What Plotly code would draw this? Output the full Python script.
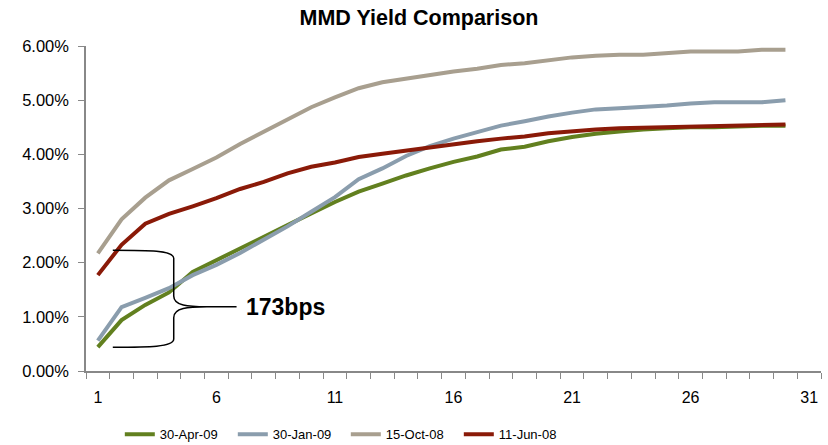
import plotly.graph_objects as go

maturity = list(range(1, 31))

apr09 = [0.44, 0.94, 1.22, 1.45, 1.83, 2.05, 2.26, 2.49, 2.69, 2.91, 3.12, 3.31, 3.46, 3.61, 3.74,
         3.86, 3.96, 4.09, 4.14, 4.24, 4.32, 4.38, 4.42, 4.46, 4.48, 4.50, 4.50, 4.52, 4.53, 4.53]
jan09 = [0.56, 1.18, 1.35, 1.53, 1.77, 1.96, 2.18, 2.42, 2.67, 2.94, 3.21, 3.54, 3.74, 3.97, 4.15,
         4.29, 4.41, 4.53, 4.61, 4.70, 4.77, 4.83, 4.85, 4.87, 4.90, 4.94, 4.96, 4.96, 4.96, 5.00]
oct08 = [2.17, 2.80, 3.20, 3.52, 3.73, 3.94, 4.19, 4.42, 4.66, 4.87, 5.05, 5.22, 5.33, 5.40, 5.47,
         5.53, 5.58, 5.65, 5.68, 5.74, 5.79, 5.82, 5.84, 5.84, 5.87, 5.90, 5.90, 5.90, 5.93, 5.93]
jun08 = [1.77, 2.33, 2.72, 2.90, 3.04, 3.19, 3.36, 3.49, 3.65, 3.77, 3.85, 3.95, 4.01, 4.07, 4.13,
         4.19, 4.24, 4.29, 4.33, 4.39, 4.43, 4.46, 4.48, 4.49, 4.50, 4.52, 4.52, 4.53, 4.55, 4.55]

series_names = ["30-Apr-09", "30-Jan-09", "15-Oct-08", "11-Jun-08"]
series_vals = [apr09, jan09, oct08, jun08]
series_colors = ["#62801F", "#8A9DAD", "#A89F8F", "#8A1A08"]

x_tick_vals = [1, 6, 11, 16, 21, 26, 31]
y_tick_vals = [0, 1, 2, 3, 4, 5, 6]
y_tick_text = ["0.00%", "1.00%", "2.00%", "3.00%", "4.00%", "5.00%", "6.00%"]

spread_label = "173bps"

FONT = "Arial, 'Liberation Sans', sans-serif"

fig = go.Figure()
for name, vals, col in zip(series_names, series_vals, series_colors):
    fig.add_trace(go.Scatter(x=maturity, y=vals, mode="lines", name=name,
                             line=dict(color=col, width=4)))

# curly brace spanning the 1-year spread (gray vs green)
top = oct08[0] + 0.06
bot = apr09[0]
mid = (top + bot) / 2 - 0.15
xl, xv, xt, xe = 1.63, 4.2, 5.6, 6.85
path = (f"M {xl},{top} C {xl+1.5},{top} {xv},{top} {xv},{top-0.15} "
        f"L {xv},{mid+0.2} C {xv},{mid+0.02} {xv+0.6},{mid} {xt},{mid} L {xe},{mid} "
        f"M {xt},{mid} C {xv+0.6},{mid} {xv},{mid-0.02} {xv},{mid-0.2} "
        f"L {xv},{bot+0.15} C {xv},{bot} {xl+1.5},{bot} {xl},{bot}")
fig.add_shape(type="path", path=path, xref="x", yref="y",
              line=dict(color="black", width=1.5))
fig.add_annotation(x=xe + 0.3, y=mid, text=f"<b>{spread_label}</b>", showarrow=False,
                   xanchor="left", yanchor="middle",
                   font=dict(family=FONT, size=23, color="black"))

fig.update_layout(
    width=828, height=445,
    margin=dict(l=86, r=7, t=46, b=74, autoexpand=False),
    paper_bgcolor="white", plot_bgcolor="white",
    font=dict(family=FONT, size=14, color="black"),
    title=dict(text="<b>MMD Yield Comparison</b>", x=0.506, xanchor="center",
               y=0.96, yanchor="middle", font=dict(family=FONT, size=21.5, color="black")),
    showlegend=True,
    legend=dict(orientation="h", x=0.046, xanchor="left", y=-0.149, yanchor="top",
                font=dict(family=FONT, size=13), itemwidth=30, traceorder="normal",
                entrywidth=68, entrywidthmode="pixels"),
    xaxis=dict(range=[0.5, 31.5], tickvals=x_tick_vals, ticks="", showgrid=False,
               zeroline=False, showline=True, linecolor="#888888", linewidth=1.5,
               automargin=False,
               minor=dict(ticks="outside", tick0=0.5, dtick=1, ticklen=6,
                          tickcolor="#888888", showgrid=False),
               tickfont=dict(family=FONT, size=16), ticklabelstandoff=11),
    yaxis=dict(range=[0, 6], tickvals=y_tick_vals, ticktext=y_tick_text,
               ticks="outside", ticklen=6, tickcolor="#888888", showgrid=False,
               zeroline=False, showline=True, linecolor="#888888", linewidth=1.5,
               automargin=False, ticklabelstandoff=6,
               tickfont=dict(family=FONT, size=16.5)),
)

fig.write_html("out.html", config={"displayModeBar": False},
               post_script="document.body.style.margin='0';")
